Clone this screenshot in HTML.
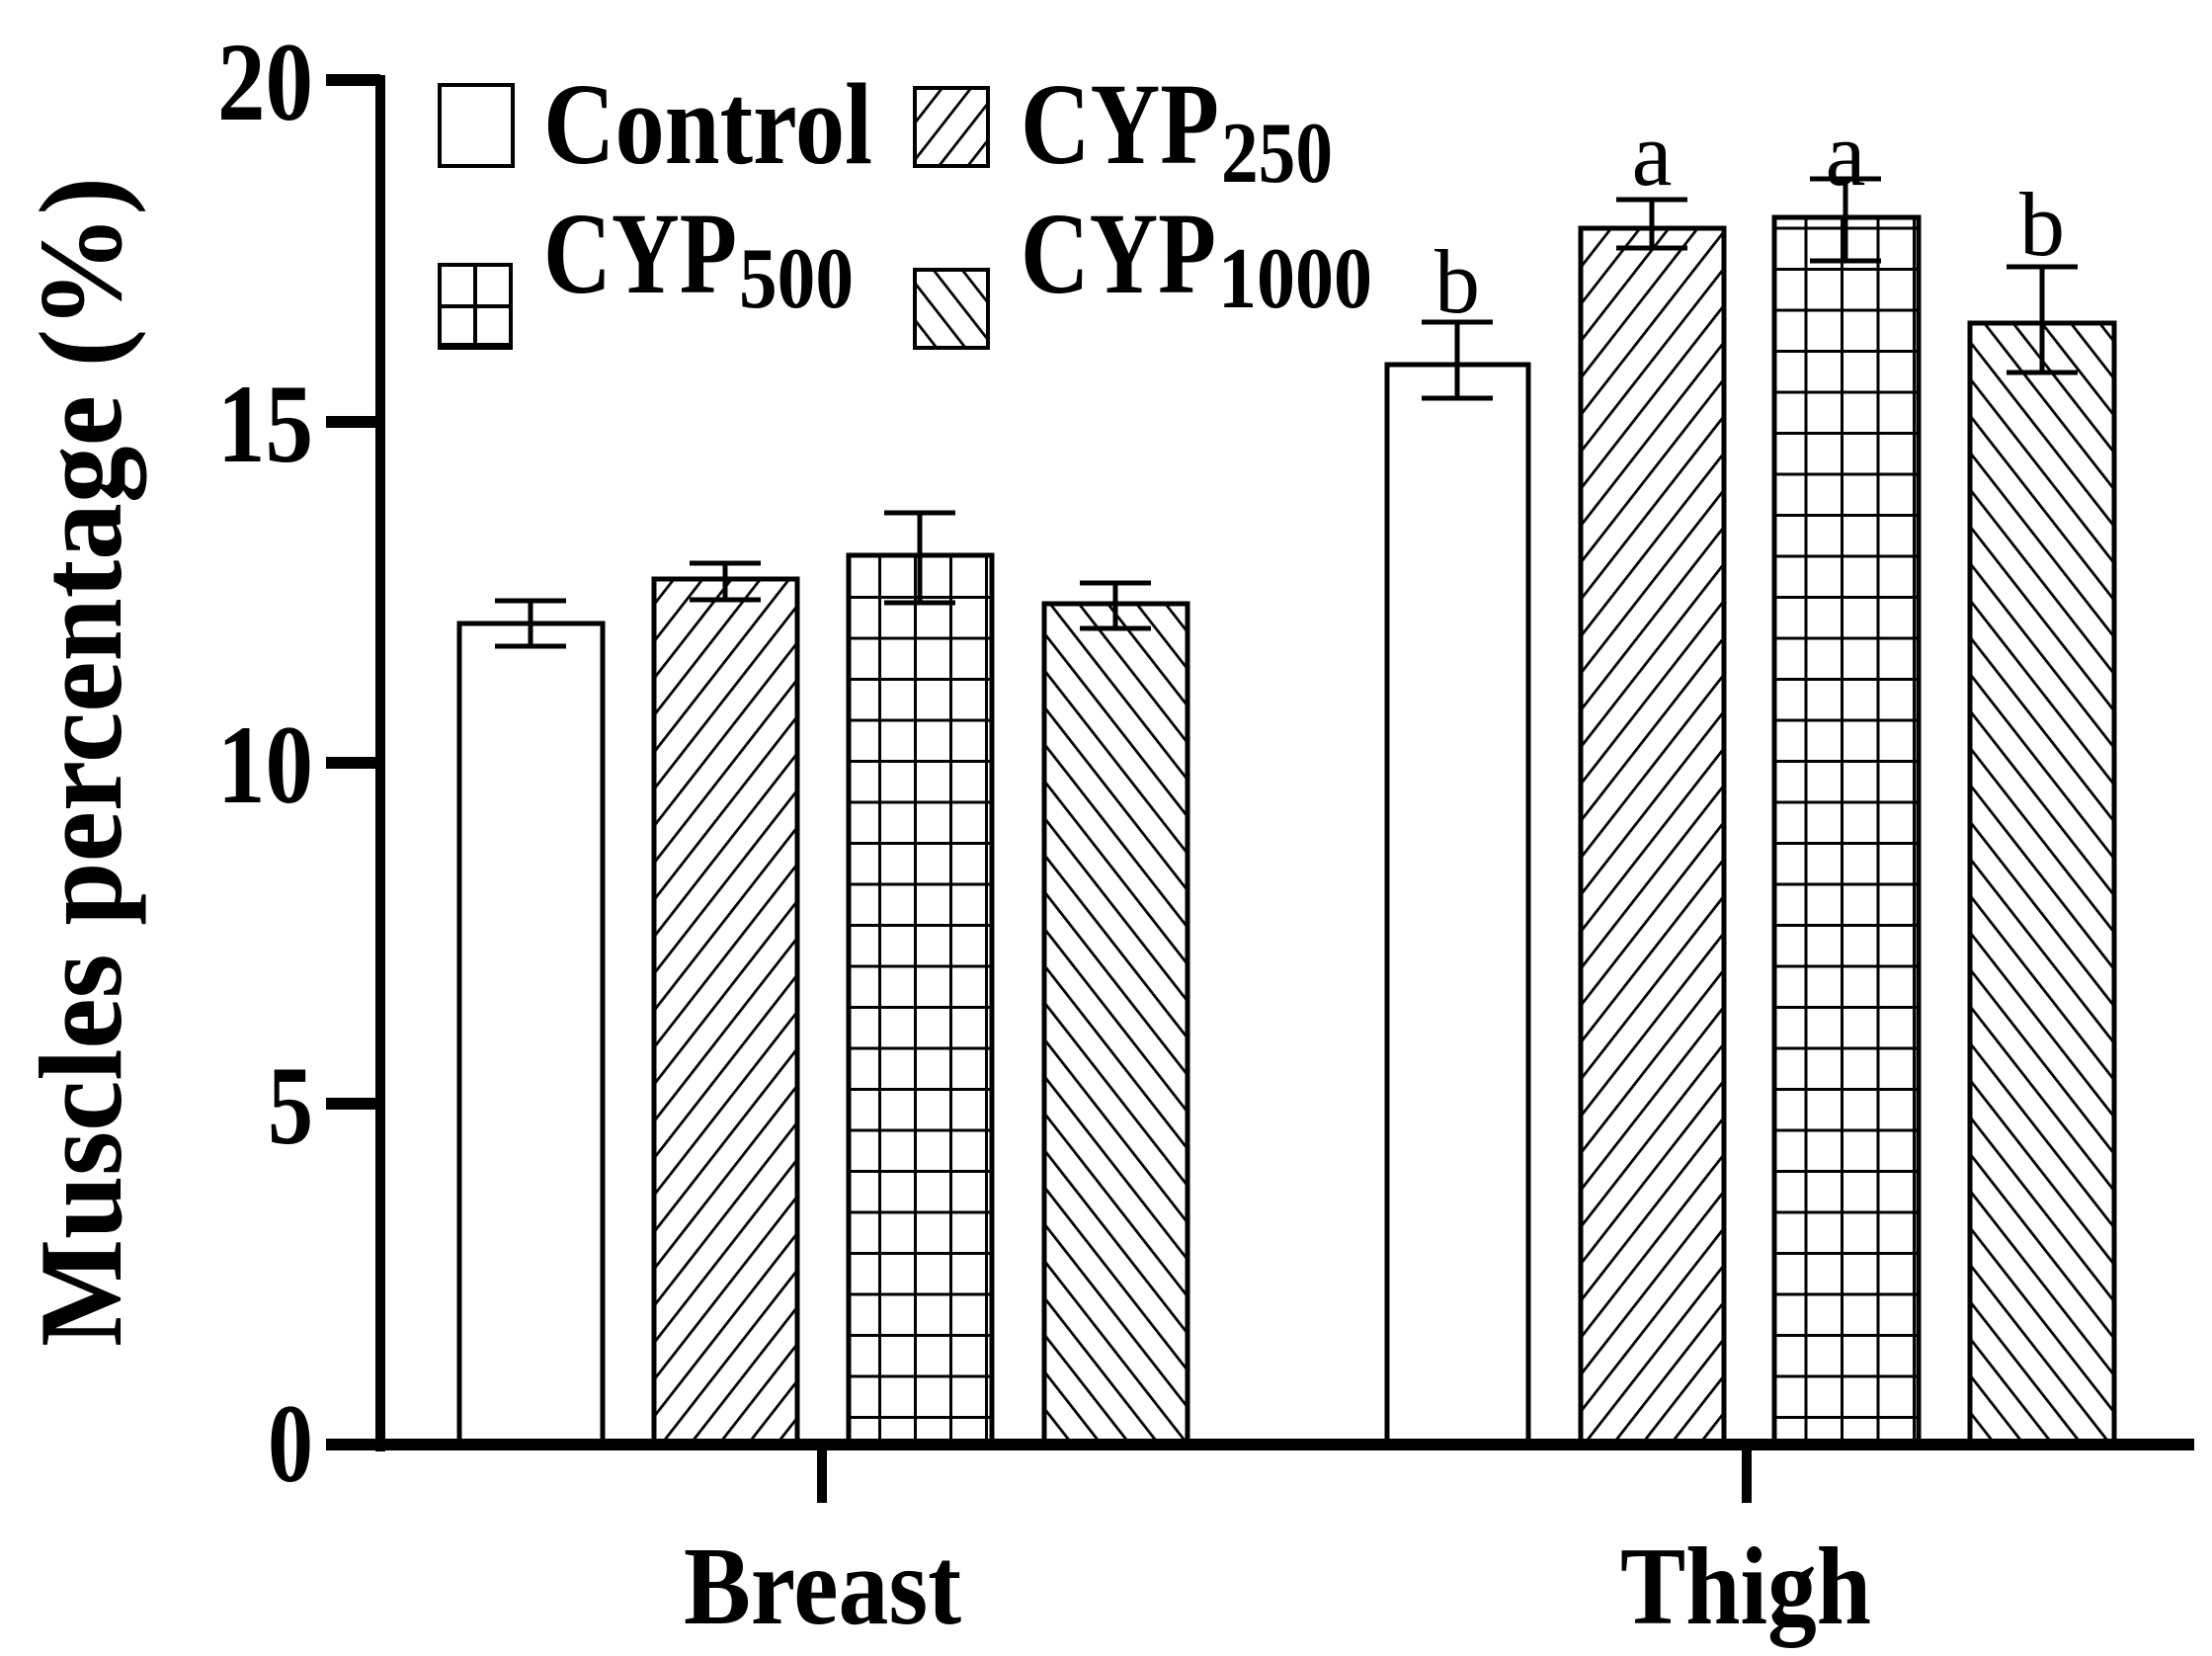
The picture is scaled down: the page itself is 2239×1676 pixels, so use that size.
<!DOCTYPE html>
<html><head><meta charset="utf-8"><style>html,body{margin:0;padding:0;background:#fff}svg{display:block}</style></head>
<body>
<svg width="2239" height="1676" viewBox="0 0 2239 1676" xmlns="http://www.w3.org/2000/svg" font-family="'Liberation Serif', serif" font-weight="bold">
<defs>
<pattern id="d1" patternUnits="userSpaceOnUse" width="23" height="23" patternTransform="rotate(38)"><rect width="23" height="23" fill="#fff"/><line x1="0" y1="-5" x2="0" y2="28" stroke="#000" stroke-width="5.5"/></pattern>
<pattern id="d2" patternUnits="userSpaceOnUse" width="23" height="23" patternTransform="rotate(-38)"><rect width="23" height="23" fill="#fff"/><line x1="0" y1="-5" x2="0" y2="28" stroke="#000" stroke-width="5.5"/></pattern>
<pattern id="g1" patternUnits="userSpaceOnUse" x="853" y="22" width="36" height="41.5"><rect width="36" height="41.5" fill="#fff"/><line x1="0" y1="0" x2="0" y2="41.5" stroke="#000" stroke-width="6"/><line x1="0" y1="0" x2="36" y2="0" stroke="#000" stroke-width="6"/></pattern>
<pattern id="g2" patternUnits="userSpaceOnUse" x="1790" y="22" width="36.5" height="41.5"><rect width="36.5" height="41.5" fill="#fff"/><line x1="0" y1="0" x2="0" y2="41.5" stroke="#000" stroke-width="6"/><line x1="0" y1="0" x2="36.5" y2="0" stroke="#000" stroke-width="6"/></pattern>
</defs>
<g stroke="#000" stroke-width="5">
<rect x="465" y="631" width="145" height="833" fill="#fff"/>
<rect x="662" y="586" width="145" height="878" fill="url(#d1)"/>
<rect x="859" y="562" width="145" height="902" fill="url(#g1)"/>
<rect x="1057" y="611" width="145" height="853" fill="url(#d2)"/>
<rect x="1404" y="369" width="143" height="1095" fill="#fff"/>
<rect x="1600" y="231" width="145" height="1233" fill="url(#d1)"/>
<rect x="1796" y="220" width="146" height="1244" fill="url(#g2)"/>
<rect x="1994" y="327" width="146" height="1137" fill="url(#d2)"/>
</g>
<g stroke="#000" stroke-width="5" fill="none">
<path d="M537 608V654M501 608H573M501 654H573"/>
<path d="M734 570V607M698 570H770M698 607H770"/>
<path d="M931 519V610M895 519H967M895 610H967"/>
<path d="M1129 590V636M1093 590H1165M1093 636H1165"/>
<path d="M1475 326V403M1439 326H1511M1439 403H1511"/>
<path d="M1672 202V251M1636 202H1708M1636 251H1708"/>
<path d="M1868 181V264M1832 181H1904M1832 264H1904"/>
<path d="M2067 270V377M2031 270H2103M2031 377H2103"/>
</g>
<g stroke="#000" fill="none">
<path d="M385 76V1469" stroke-width="10"/>
<path d="M330 1462H2221" stroke-width="12"/>
<path d="M330 81H385M330 427H385M330 772H385M330 1117H385" stroke-width="12"/>
<path d="M832 1464V1521M1768 1464V1521" stroke-width="10"/>
</g>
<g font-size="113" text-anchor="end">
<text x="317" y="121" textLength="97" lengthAdjust="spacingAndGlyphs">20</text>
<text x="317" y="467" textLength="97" lengthAdjust="spacingAndGlyphs">15</text>
<text x="317" y="812" textLength="97" lengthAdjust="spacingAndGlyphs">10</text>
<text x="317" y="1157" textLength="46" lengthAdjust="spacingAndGlyphs">5</text>
<text x="317" y="1499" textLength="46" lengthAdjust="spacingAndGlyphs">0</text>
</g>
<text transform="translate(122,1363) rotate(-90)" font-size="120" textLength="1184" lengthAdjust="spacingAndGlyphs">Muscles percentage (%)</text>
<text x="692" y="1643" font-size="112" textLength="281" lengthAdjust="spacingAndGlyphs">Breast</text>
<text x="1640" y="1643" font-size="112" textLength="254" lengthAdjust="spacingAndGlyphs">Thigh</text>
<g font-size="92" font-weight="normal" text-anchor="middle">
<text x="1475" y="316">b</text>
<text x="1672" y="187">a</text>
<text x="1868" y="187">a</text>
<text x="2067" y="258">b</text>
</g>
<g stroke="#000" stroke-width="4">
<rect x="445" y="86" width="74" height="82" fill="#fff"/>
<rect x="926" y="89" width="74" height="79" fill="url(#d1)"/>
<rect x="445" y="268" width="72" height="84" fill="#fff"/>
<path d="M481 268V352M445 310H517" fill="none"/>
<path d="M445 350H517" stroke-width="6"/>
<rect x="926" y="273" width="74" height="79" fill="url(#d2)"/>
</g>
<g font-size="118">
<text x="550" y="165" textLength="333" lengthAdjust="spacingAndGlyphs">Control</text>
<text x="1033" y="165" textLength="201" lengthAdjust="spacingAndGlyphs">CYP</text>
<text x="1236" y="184" font-size="88" textLength="113" lengthAdjust="spacingAndGlyphs">250</text>
<text x="550" y="296" textLength="196" lengthAdjust="spacingAndGlyphs">CYP</text>
<text x="748" y="311" font-size="88" textLength="116" lengthAdjust="spacingAndGlyphs">500</text>
<text x="1033" y="296" textLength="198" lengthAdjust="spacingAndGlyphs">CYP</text>
<text x="1233" y="311" font-size="88" textLength="156" lengthAdjust="spacingAndGlyphs">1000</text>
</g>
</svg>
</body></html>
